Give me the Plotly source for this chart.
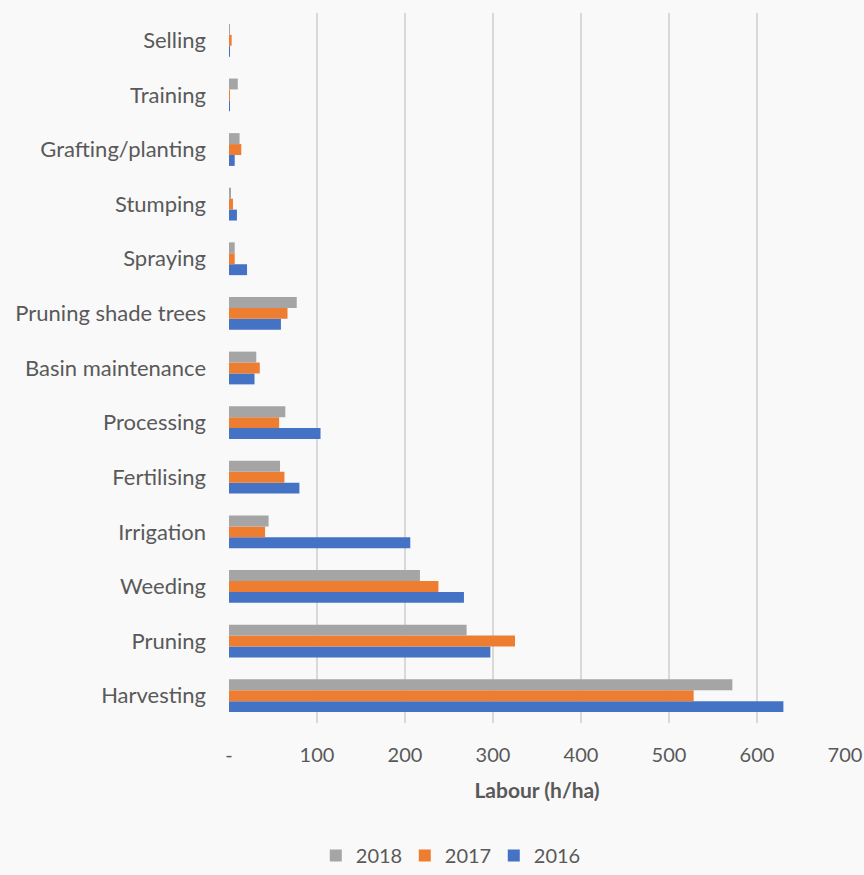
import plotly.graph_objects as go

# Activities, listed bottom to top on the category axis
activities = ["Harvesting", "Pruning", "Weeding", "Irrigation", "Fertilising",
              "Processing", "Basin maintenance", "Pruning shade trees",
              "Spraying", "Stumping", "Grafting/planting", "Training", "Selling"]

labour_2016 = [630, 297, 267, 206, 80, 104, 29, 59, 20.5, 9, 6.5, 0.5, 1]
labour_2017 = [528, 325, 238, 41, 63, 57, 35, 66.5, 6.5, 4.5, 14, 0.5, 3]
labour_2018 = [572, 270, 217, 45, 58, 64, 31, 77, 6.5, 2, 12, 10, 1]

tick_vals = [0, 100, 200, 300, 400, 500, 600, 700]
tick_text = ["-", "100", "200", "300", "400", "500", "600", "700"]

series = [("2016", labour_2016, "#4472c4"),
          ("2017", labour_2017, "#ed7d31"),
          ("2018", labour_2018, "#a5a5a5")]

fig = go.Figure()
for name, vals, color in series:
    fig.add_trace(go.Bar(
        y=activities, x=vals, name=name, orientation="h",
        marker=dict(color=color, line=dict(width=0)),
    ))

font_family = "Lato, 'Open Sans', sans-serif"
fig.update_layout(
    width=864, height=875,
    margin=dict(l=229, r=19, t=13, b=152),
    paper_bgcolor="#f9f9f9", plot_bgcolor="#f9f9f9",
    barmode="group", bargap=0.4, bargroupgap=0,
    font=dict(family=font_family, size=21, color="#595959"),
    xaxis=dict(
        range=[0, 700], tickvals=tick_vals, ticktext=tick_text,
        showgrid=True, gridcolor="#d9d9d9", gridwidth=2,
        zeroline=False, showline=False, ticks="",
        automargin=False, ticklabelstandoff=18,
        tickfont=dict(size=20, color="#595959"),
        title=dict(text="<b>Labour (h/ha)</b>", font=dict(size=21, color="#595959"),
                   standoff=18),
    ),
    yaxis=dict(
        showgrid=False, zeroline=False, showline=False, ticks="",
        automargin=False, ticklabelstandoff=22,
        tickfont=dict(size=22, color="#595959"),
    ),
    legend=dict(
        orientation="h", traceorder="reversed",
        xref="container", yref="container",
        x=0.52, xanchor="center", y=0.0, yanchor="bottom",
        font=dict(size=20, color="#595959"),
        itemwidth=30, entrywidth=44, entrywidthmode="pixels",
    ),
)

fig.write_html("out.html")
